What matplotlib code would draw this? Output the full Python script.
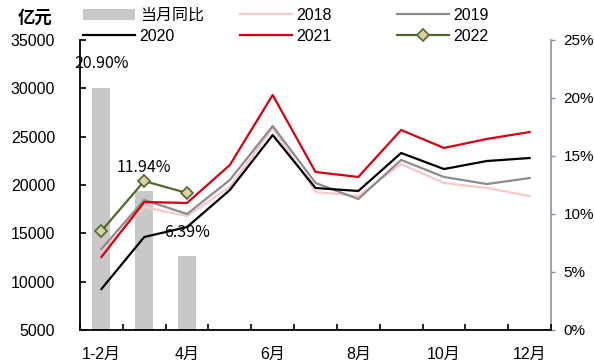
import matplotlib
matplotlib.use('Agg')
import matplotlib.pyplot as plt
from matplotlib.ticker import MultipleLocator, FuncFormatter
import numpy as np

plt.rcParams['font.family'] = ['Liberation Sans', 'Noto Sans CJK SC']

months = ['1-2月', '3月', '4月', '5月', '6月', '7月', '8月', '9月', '10月', '11月', '12月']
tick_labels = ['1-2月', '4月', '6月', '8月', '10月', '12月']

# 亿元
s2018 = [13100, 17720, 16790, 19790, 25900, 19280, 18860, 22170, 20210, 19690, 18860]
s2019 = [13380, 18450, 17000, 20520, 26100, 20210, 18550, 22590, 20830, 20100, 20720]
s2020 = [9240, 14620, 15650, 19480, 25170, 19690, 19380, 23310, 21650, 22480, 22790]
s2021 = [12550, 18240, 18140, 22070, 29310, 21345, 20830, 25690, 23830, 24760, 25480]
s2022 = [15240, 20410, 19170]

# 当月同比 (%)
yoy = [20.90, 11.94, 6.39]

x = np.arange(len(months))

fig = plt.figure(figsize=(5.94, 3.61), dpi=100)
ax = fig.add_axes([0.1347, 0.0859, 0.7929, 0.8033])
ax2 = ax.twinx()
ax.set_zorder(ax2.get_zorder() + 1)
ax.patch.set_visible(False)

bars = ax2.bar(x[:len(yoy)], [v / 100 for v in yoy], width=0.42, color='#c8c8c8', label='当月同比')
for xi, v in zip(x, yoy):
    ax2.annotate('{:.2f}%'.format(v), (xi, v / 100), xytext=(0, 17), textcoords='offset points',
                 ha='center', va='center', fontsize=11.5, family=['Noto Sans CJK SC'])

l18, = ax.plot(x, s2018, color='#f6c8ca', lw=1.6, label='2018')
l19, = ax.plot(x, s2019, color='#8c8c8c', lw=1.6, label='2019')
l20, = ax.plot(x, s2020, color='black', lw=1.6, label='2020')
l21, = ax.plot(x, s2021, color='#d7000f', lw=1.6, label='2021')
l22, = ax.plot(x[:len(s2022)], s2022, color='#4f6a2a', lw=1.6, marker='D', markersize=6,
               markerfacecolor='#ddd0a6', markeredgecolor='#4f6a2a', markeredgewidth=1.2, label='2022')

ax.set_xlim(-0.5, 10.5)
ax.set_ylim(5000, 35000)
ax.yaxis.set_major_locator(MultipleLocator(5000))
ax2.set_ylim(0, 0.25)
ax2.yaxis.set_major_locator(MultipleLocator(0.05))
ax2.yaxis.set_major_formatter(FuncFormatter(lambda v, p: '{:.0f}%'.format(v * 100)))

ax.set_xticks(x[[0, 2, 4, 6, 8, 10]])
ax.set_xticklabels(tick_labels)
ax.set_xticks(np.arange(-0.5, 11, 1), minor=True)
ax.tick_params(axis='x', which='major', length=0, pad=12, labelsize=11.5)
ax.tick_params(axis='x', which='minor', direction='in', length=4, width=1.2)
ax.tick_params(axis='y', direction='in', length=4.5, width=1.2, pad=18, labelsize=11.5)
ax2.tick_params(axis='y', direction='out', length=3, width=1, color='#8e8ea0', pad=6, labelsize=11)

for s in ['top', 'right']:
    ax.spines[s].set_visible(False)
for s in ['top', 'left', 'bottom']:
    ax2.spines[s].set_visible(False)
ax.spines['left'].set_linewidth(1.3)
ax.spines['bottom'].set_linewidth(1.3)
ax2.spines['right'].set_color('#8e8ea0')
ax2.spines['right'].set_linewidth(1.2)

legend_kw = dict(loc='upper left', frameon=False, fontsize=11.5, handlelength=3.25,
                 handletextpad=0.3, labelspacing=0.35, borderpad=0, borderaxespad=0)
fig.legend([bars, l20], ['当月同比', '2020'], bbox_to_anchor=(83 / 594, 1 - 8 / 361), **legend_kw)
fig.legend([l18, l21], ['2018', '2021'], bbox_to_anchor=(240 / 594, 1 - 8 / 361), **legend_kw)
fig.legend([l19, l22], ['2019', '2022'], bbox_to_anchor=(397 / 594, 1 - 8 / 361), **legend_kw)

fig.text(18 / 594, 1 - 17 / 361, '亿元', fontsize=12.5, fontweight='bold', va='center', ha='left')

fig.savefig('out.png', dpi=100)
